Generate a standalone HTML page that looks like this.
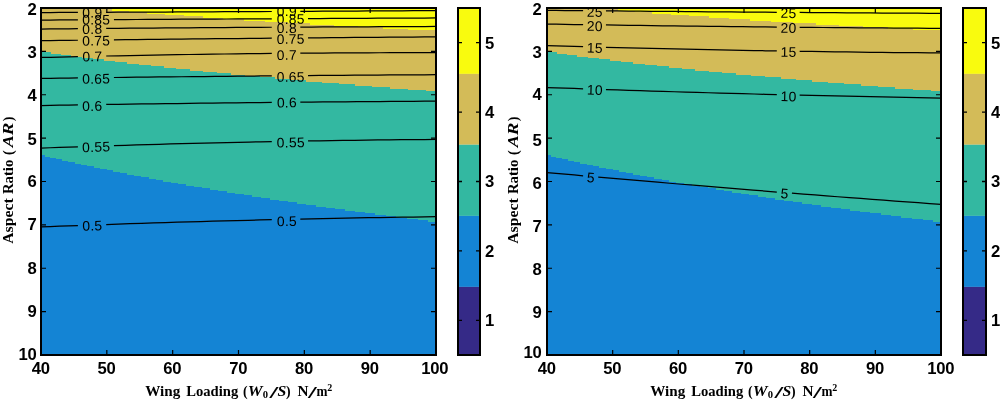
<!DOCTYPE html>
<html><head><meta charset="utf-8"><title>Wing loading vs aspect ratio</title>
<style>
html,body{margin:0;padding:0;background:#fff}
svg{display:block}
text{font-family:"Liberation Sans",sans-serif;fill:#000}
.tk text{font-size:16.67px;font-weight:bold;letter-spacing:-0.27px}
.ct path{fill:none;stroke:#000;stroke-width:1.25}
.ct text{font-size:13.89px;text-anchor:middle;letter-spacing:0.28px}
.ax{font-family:"Liberation Serif",serif;font-size:15px;font-weight:bold}
.it{font-style:italic}
.sub{font-size:10px}
.sl{font-size:17.5px}
</style></head><body>
<svg width="1000" height="401" viewBox="0 0 1000 401">
<rect width="1000" height="401" fill="#fff"/>
<clipPath id="c0"><rect x="41" y="8" width="395" height="347"/></clipPath>
<g shape-rendering="crispEdges"><rect x="41" y="8" width="395" height="347" fill="#1484d4"/>
<path fill="#33b8a1" d="M41 8H436V9.44H41ZM41 9.39H436V10.83H41ZM41 10.78H436V12.21H41ZM41 12.16H436V13.6H41ZM41 13.55H436V14.99H41ZM41 14.94H436V16.38H41ZM41 16.33H436V17.77H41ZM41 17.72H436V19.15H41ZM41 19.1H436V20.54H41ZM41 20.49H436V21.93H41ZM41 21.88H436V23.32H41ZM41 23.27H436V24.71H41ZM41 24.66H436V26.09H41ZM41 26.04H436V27.48H41ZM41 27.43H436V28.87H41ZM41 28.82H436V30.26H41ZM41 30.21H436V31.65H41ZM41 31.6H436V33.03H41ZM41 32.98H436V34.42H41ZM41 34.37H436V35.81H41ZM41 35.76H436V37.2H41ZM41 37.15H436V38.59H41ZM41 38.54H436V39.97H41ZM41 39.92H436V41.36H41ZM41 41.31H436V42.75H41ZM41 42.7H436V44.14H41ZM41 44.09H436V45.53H41ZM41 45.48H436V46.91H41ZM41 46.86H436V48.3H41ZM41 48.25H436V49.69H41ZM41 49.64H436V51.08H41ZM41 51.03H436V52.47H41ZM41 52.42H436V53.85H41ZM41 53.8H436V55.24H41ZM41 55.19H436V56.63H41ZM41 56.58H436V58.02H41ZM41 57.97H436V59.41H41ZM41 59.36H436V60.79H41ZM41 60.74H436V62.18H41ZM41 62.13H436V63.57H41ZM41 63.52H436V64.96H41ZM41 64.91H436V66.35H41ZM41 66.3H436V67.73H41ZM41 67.68H436V69.12H41ZM41 69.07H436V70.51H41ZM41 70.46H436V71.9H41ZM41 71.85H436V73.29H41ZM41 73.24H436V74.67H41ZM41 74.62H436V76.06H41ZM41 76.01H436V77.45H41ZM41 77.4H436V78.84H41ZM41 78.79H436V80.23H41ZM41 80.18H436V81.61H41ZM41 81.56H436V83H41ZM41 82.95H436V84.39H41ZM41 84.34H436V85.78H41ZM41 85.73H436V87.17H41ZM41 87.12H436V88.55H41ZM41 88.5H436V89.94H41ZM41 89.89H436V91.33H41ZM41 91.28H436V92.72H41ZM41 92.67H436V94.11H41ZM41 94.06H436V95.49H41ZM41 95.44H436V96.88H41ZM41 96.83H436V98.27H41ZM41 98.22H436V99.66H41ZM41 99.61H436V101.05H41ZM41 101H436V102.43H41ZM41 102.38H436V103.82H41ZM41 103.77H436V105.21H41ZM41 105.16H436V106.6H41ZM41 106.55H436V107.99H41ZM41 107.94H436V109.37H41ZM41 109.32H436V110.76H41ZM41 110.71H436V112.15H41ZM41 112.1H436V113.54H41ZM41 113.49H436V114.93H41ZM41 114.88H436V116.31H41ZM41 116.26H436V117.7H41ZM41 117.65H436V119.09H41ZM41 119.04H436V120.48H41ZM41 120.43H436V121.87H41ZM41 121.82H436V123.25H41ZM41 123.2H436V124.64H41ZM41 124.59H436V126.03H41ZM41 125.98H436V127.42H41ZM41 127.37H436V128.81H41ZM41 128.76H436V130.19H41ZM41 130.14H436V131.58H41ZM41 131.53H436V132.97H41ZM41 132.92H436V134.36H41ZM41 134.31H436V135.75H41ZM41 135.7H436V137.13H41ZM41 137.08H436V138.52H41ZM41 138.47H436V139.91H41ZM41 139.86H436V141.3H41ZM41 141.25H436V142.69H41ZM41 142.64H436V144.07H41ZM41 144.02H436V145.46H41ZM41 145.41H436V146.85H41ZM41 146.8H436V148.24H41ZM41 148.19H436V149.63H41ZM41 149.58H436V151.01H41ZM41 150.96H436V152.4H41ZM41 152.35H436V153.79H41ZM41 153.74H436V155.18H41ZM45 155.13H436V156.57H45ZM50 156.52H436V157.95H50ZM56 157.9H436V159.34H56ZM62 159.29H436V160.73H62ZM68 160.68H436V162.12H68ZM75 162.07H436V163.51H75ZM81 163.46H436V164.89H81ZM87 164.84H436V166.28H87ZM94 166.23H436V167.67H94ZM100 167.62H436V169.06H100ZM107 169.01H436V170.45H107ZM113 170.4H436V171.83H113ZM120 171.78H436V173.22H120ZM127 173.17H436V174.61H127ZM134 174.56H436V176H134ZM141 175.95H436V177.39H141ZM149 177.34H436V178.77H149ZM156 178.72H436V180.16H156ZM163 180.11H436V181.55H163ZM171 181.5H436V182.94H171ZM178 182.89H436V184.33H178ZM186 184.28H436V185.71H186ZM194 185.66H436V187.1H194ZM202 187.05H436V188.49H202ZM210 188.44H436V189.88H210ZM218 189.83H436V191.27H218ZM227 191.22H436V192.65H227ZM235 192.6H436V194.04H235ZM244 193.99H436V195.43H244ZM252 195.38H436V196.82H252ZM261 196.77H436V198.21H261ZM270 198.16H436V199.59H270ZM279 199.54H436V200.98H279ZM288 200.93H436V202.37H288ZM297 202.32H436V203.76H297ZM306 203.71H436V205.15H306ZM316 205.1H436V206.53H316ZM326 206.48H436V207.92H326ZM335 207.87H436V209.31H335ZM345 209.26H436V210.7H345ZM355 210.65H436V212.09H355ZM365 212.04H436V213.47H365ZM375 213.42H436V214.86H375ZM386 214.81H436V216.25H386ZM396 216.2H436V217.64H396ZM407 217.59H436V219.03H407ZM418 218.98H436V220.41H418ZM428 220.36H436V221.8H428Z"/>
<path fill="#d3bb58" d="M41 8H436V9.44H41ZM41 9.39H436V10.83H41ZM41 10.78H436V12.21H41ZM41 12.16H436V13.6H41ZM41 13.55H436V14.99H41ZM41 14.94H436V16.38H41ZM41 16.33H436V17.77H41ZM41 17.72H436V19.15H41ZM41 19.1H436V20.54H41ZM41 20.49H436V21.93H41ZM41 21.88H436V23.32H41ZM41 23.27H436V24.71H41ZM41 24.66H436V26.09H41ZM41 26.04H436V27.48H41ZM41 27.43H436V28.87H41ZM41 28.82H436V30.26H41ZM41 30.21H436V31.65H41ZM41 31.6H436V33.03H41ZM41 32.98H436V34.42H41ZM41 34.37H436V35.81H41ZM41 35.76H436V37.2H41ZM41 37.15H436V38.59H41ZM41 38.54H436V39.97H41ZM41 39.92H436V41.36H41ZM41 41.31H436V42.75H41ZM41 42.7H436V44.14H41ZM41 44.09H436V45.53H41ZM41 45.48H436V46.91H41ZM41 46.86H436V48.3H41ZM41 48.25H436V49.69H41ZM41 49.64H436V51.08H41ZM41 51.03H436V52.47H41ZM51 52.42H436V53.85H51ZM61 53.8H436V55.24H61ZM71 55.19H436V56.63H71ZM82 56.58H436V58.02H82ZM93 57.97H436V59.41H93ZM104 59.36H436V60.79H104ZM115 60.74H436V62.18H115ZM127 62.13H436V63.57H127ZM139 63.52H436V64.96H139ZM151 64.91H436V66.35H151ZM164 66.3H436V67.73H164ZM176 67.68H436V69.12H176ZM190 69.07H436V70.51H190ZM203 70.46H436V71.9H203ZM217 71.85H436V73.29H217ZM231 73.24H436V74.67H231ZM245 74.62H436V76.06H245ZM260 76.01H436V77.45H260ZM275 77.4H436V78.84H275ZM290 78.79H436V80.23H290ZM306 80.18H436V81.61H306ZM322 81.56H436V83H322ZM339 82.95H436V84.39H339ZM355 84.34H436V85.78H355ZM372 85.73H436V87.17H372ZM390 87.12H436V88.55H390ZM408 88.5H436V89.94H408ZM426 89.89H436V91.33H426Z"/>
<path fill="#f9fb0e" d="M95 8H436V9.44H95ZM112 9.39H436V10.83H112ZM129 10.78H436V12.21H129ZM147 12.16H436V13.6H147ZM165 13.55H436V14.99H165ZM184 14.94H436V16.38H184ZM203 16.33H436V17.77H203ZM223 17.72H436V19.15H223ZM244 19.1H436V20.54H244ZM265 20.49H436V21.93H265ZM288 21.88H436V23.32H288ZM310 23.27H436V24.71H310ZM334 24.66H436V26.09H334ZM358 26.04H436V27.48H358ZM383 27.43H436V28.87H383ZM408 28.82H436V30.26H408ZM435 30.21H436V31.65H435Z"/></g>
<g clip-path="url(#c0)" class="ct"><path d="M41 12.55 L50.23 12.51 L59.45 12.47 L68.68 12.44 L77.9 12.4"/>
<path d="M106.21 12.28 L118.04 12.23 L129.86 12.18 L141.69 12.12 L153.52 12.07 L165.35 12.02 L177.18 11.96 L189 11.91 L200.83 11.85 L212.66 11.79 L224.49 11.74 L236.32 11.68 L248.14 11.62 L259.97 11.56 L271.8 11.5"/>
<path d="M300.31 11.35 L311.61 11.29 L322.92 11.23 L334.23 11.16 L345.54 11.1 L356.85 11.04 L368.15 10.98 L379.46 10.91 L390.77 10.85 L402.08 10.78 L413.38 10.71 L424.69 10.65 L436 10.58"/>
<text x="92.35" y="17.4" transform="rotate(-0.24 92.35 12.45)">0.9</text>
<text x="286.9" y="16.1" transform="rotate(-0.3 286.9 11.15)">0.9</text>
<path d="M41 20.07 L50.23 20.01 L59.45 19.95 L68.68 19.9 L77.9 19.84"/>
<path d="M113.93 19.63 L125.21 19.56 L136.48 19.5 L147.76 19.43 L159.04 19.37 L170.31 19.31 L181.59 19.24 L192.86 19.18 L204.14 19.12 L215.42 19.06 L226.69 19 L237.97 18.93 L249.25 18.87 L260.52 18.82 L271.8 18.76"/>
<path d="M308.03 18.57 L319.66 18.51 L331.3 18.45 L342.93 18.4 L354.56 18.34 L366.2 18.28 L377.83 18.23 L389.47 18.17 L401.1 18.12 L412.73 18.06 L424.37 18.01 L436 17.95"/>
<text x="96.21" y="24.5" transform="rotate(-0.34 96.21 19.55)">0.85</text>
<text x="290.76" y="23.9" transform="rotate(-0.29 290.76 18.95)">0.85</text>
<path d="M41 29.01 L50.23 28.92 L59.45 28.84 L68.68 28.76 L77.9 28.67"/>
<path d="M106.21 28.43 L118.04 28.33 L129.86 28.24 L141.69 28.14 L153.52 28.05 L165.35 27.96 L177.18 27.87 L189 27.79 L200.83 27.71 L212.66 27.62 L224.49 27.54 L236.32 27.47 L248.14 27.39 L259.97 27.32 L271.8 27.25"/>
<path d="M300.31 27.09 L311.61 27.03 L322.92 26.97 L334.23 26.91 L345.54 26.86 L356.85 26.81 L368.15 26.76 L379.46 26.71 L390.77 26.66 L402.08 26.62 L413.38 26.57 L424.69 26.53 L436 26.49"/>
<text x="92.35" y="33.9" transform="rotate(-0.49 92.35 28.95)">0.8</text>
<text x="286.9" y="32.9" transform="rotate(-0.32 286.9 27.95)">0.8</text>
<path d="M41 40.71 L50.23 40.59 L59.45 40.48 L68.68 40.37 L77.9 40.25"/>
<path d="M113.93 39.83 L125.21 39.7 L136.48 39.57 L147.76 39.45 L159.04 39.32 L170.31 39.2 L181.59 39.08 L192.86 38.97 L204.14 38.85 L215.42 38.74 L226.69 38.62 L237.97 38.51 L249.25 38.4 L260.52 38.3 L271.8 38.19"/>
<path d="M308.03 37.87 L319.66 37.77 L331.3 37.67 L342.93 37.58 L354.56 37.48 L366.2 37.39 L377.83 37.3 L389.47 37.21 L401.1 37.13 L412.73 37.04 L424.37 36.96 L436 36.88"/>
<text x="96.21" y="45.5" transform="rotate(-0.68 96.21 40.55)">0.75</text>
<text x="290.76" y="43.8" transform="rotate(-0.51 290.76 38.85)">0.75</text>
<path d="M41 57.48 L50.23 57.26 L59.45 57.04 L68.68 56.82 L77.9 56.61"/>
<path d="M106.21 56 L118.04 55.76 L129.86 55.52 L141.69 55.3 L153.52 55.09 L165.35 54.88 L177.18 54.69 L189 54.5 L200.83 54.33 L212.66 54.16 L224.49 54 L236.32 53.85 L248.14 53.71 L259.97 53.58 L271.8 53.45"/>
<path d="M300.31 53.2 L311.61 53.11 L322.92 53.03 L334.23 52.96 L345.54 52.89 L356.85 52.84 L368.15 52.79 L379.46 52.75 L390.77 52.72 L402.08 52.7 L413.38 52.69 L424.69 52.68 L436 52.69"/>
<text x="92.35" y="61.3" transform="rotate(-1.24 92.35 56.35)">0.7</text>
<text x="286.9" y="59.8" transform="rotate(-0.52 286.9 54.85)">0.7</text>
<path d="M41 78.4 L50.23 78.28 L59.45 78.17 L68.68 78.05 L77.9 77.93"/>
<path d="M113.93 77.5 L125.21 77.37 L136.48 77.24 L147.76 77.11 L159.04 76.99 L170.31 76.86 L181.59 76.75 L192.86 76.63 L204.14 76.51 L215.42 76.4 L226.69 76.29 L237.97 76.19 L249.25 76.08 L260.52 75.98 L271.8 75.88"/>
<path d="M308.03 75.58 L319.66 75.49 L331.3 75.4 L342.93 75.31 L354.56 75.23 L366.2 75.14 L377.83 75.06 L389.47 74.99 L401.1 74.91 L412.73 74.84 L424.37 74.77 L436 74.71"/>
<text x="96.21" y="83.65" transform="rotate(-0.69 96.21 78.7)">0.65</text>
<text x="290.76" y="81.7" transform="rotate(-0.48 290.76 76.75)">0.65</text>
<path d="M41 105.51 L50.23 105.36 L59.45 105.21 L68.68 105.06 L77.9 104.91"/>
<path d="M106.21 104.49 L118.04 104.31 L129.86 104.14 L141.69 103.98 L153.52 103.82 L165.35 103.66 L177.18 103.51 L189 103.36 L200.83 103.22 L212.66 103.07 L224.49 102.94 L236.32 102.8 L248.14 102.68 L259.97 102.55 L271.8 102.43"/>
<path d="M300.31 102.15 L311.61 102.05 L322.92 101.95 L334.23 101.86 L345.54 101.76 L356.85 101.68 L368.15 101.59 L379.46 101.51 L390.77 101.43 L402.08 101.36 L413.38 101.29 L424.69 101.22 L436 101.16"/>
<text x="92.35" y="110.9" transform="rotate(-0.87 92.35 105.95)">0.6</text>
<text x="286.9" y="107.4" transform="rotate(-0.55 286.9 102.45)">0.6</text>
<path d="M41 148.09 L50.23 147.75 L59.45 147.43 L68.68 147.1 L77.9 146.79"/>
<path d="M113.93 145.62 L125.21 145.27 L136.48 144.93 L147.76 144.61 L159.04 144.29 L170.31 143.98 L181.59 143.68 L192.86 143.39 L204.14 143.11 L215.42 142.83 L226.69 142.57 L237.97 142.32 L249.25 142.08 L260.52 141.84 L271.8 141.62"/>
<path d="M308.03 140.96 L319.66 140.77 L331.3 140.59 L342.93 140.42 L354.56 140.26 L366.2 140.11 L377.83 139.97 L389.47 139.84 L401.1 139.72 L412.73 139.61 L424.37 139.51 L436 139.42"/>
<text x="96.21" y="151.8" transform="rotate(-1.86 96.21 146.85)">0.55</text>
<text x="290.76" y="147.3" transform="rotate(-1.04 290.76 142.35)">0.55</text>
<path d="M41 226.91 L50.23 226.55 L59.45 226.2 L68.68 225.86 L77.9 225.52"/>
<path d="M106.21 224.51 L118.04 224.11 L129.86 223.72 L141.69 223.33 L153.52 222.95 L165.35 222.59 L177.18 222.23 L189 221.88 L200.83 221.54 L212.66 221.21 L224.49 220.89 L236.32 220.58 L248.14 220.27 L259.97 219.98 L271.8 219.7"/>
<path d="M300.31 219.05 L311.61 218.81 L322.92 218.57 L334.23 218.35 L345.54 218.13 L356.85 217.92 L368.15 217.73 L379.46 217.53 L390.77 217.35 L402.08 217.18 L413.38 217.01 L424.69 216.85 L436 216.7"/>
<text x="92.35" y="230.5" transform="rotate(-2.03 92.35 225.55)">0.5</text>
<text x="286.9" y="226" transform="rotate(-1.3 286.9 221.05)">0.5</text></g>
<rect x="41" y="8" width="395" height="347" fill="none" stroke="#000" stroke-width="2"/>
<path d="M106.83 355v-5M106.83 8v5M172.67 355v-5M172.67 8v5M238.5 355v-5M238.5 8v5M304.33 355v-5M304.33 8v5M370.17 355v-5M370.17 8v5M41 51.38h5M436 51.38h-5M41 94.75h5M436 94.75h-5M41 138.12h5M436 138.12h-5M41 181.5h5M436 181.5h-5M41 224.88h5M436 224.88h-5M41 268.25h5M436 268.25h-5M41 311.62h5M436 311.62h-5" stroke="#000" stroke-width="1.2" fill="none"/>
<g class="tk"><text x="40.7" y="374.2" text-anchor="middle">40</text><text x="106.53" y="374.2" text-anchor="middle">50</text><text x="172.37" y="374.2" text-anchor="middle">60</text><text x="238.2" y="374.2" text-anchor="middle">70</text><text x="304.03" y="374.2" text-anchor="middle">80</text><text x="369.87" y="374.2" text-anchor="middle">90</text><text x="434.7" y="374.2" text-anchor="middle">100</text><text x="36.4" y="15.1" text-anchor="end">2</text><text x="36.4" y="58.38" text-anchor="end">3</text><text x="36.4" y="100.85" text-anchor="end">4</text><text x="36.4" y="144.62" text-anchor="end">5</text><text x="36.4" y="187.4" text-anchor="end">6</text><text x="36.4" y="229.68" text-anchor="end">7</text><text x="36.4" y="273.65" text-anchor="end">8</text><text x="36.4" y="316.92" text-anchor="end">9</text><text x="36.4" y="360" text-anchor="end">10</text></g>
<rect x="458" y="8" width="22" height="65.9" fill="#f9fb0e"/>
<rect x="458" y="73.9" width="22" height="70.85" fill="#d3bb58"/>
<rect x="458" y="144.75" width="22" height="71.15" fill="#33b8a1"/>
<rect x="458" y="215.9" width="22" height="71" fill="#1484d4"/>
<rect x="458" y="286.9" width="22" height="68.1" fill="#352a87"/>
<rect x="458" y="8" width="22" height="347" fill="none" stroke="#000" stroke-width="2"/>
<path d="M458 320.3h4M480 320.3h-4M458 250.9h4M480 250.9h-4M458 181.5h4M480 181.5h-4M458 112.1h4M480 112.1h-4M458 42.7h4M480 42.7h-4" stroke="#000" stroke-width="1.3" fill="none"/>
<g class="tk"><text x="485" y="326.2">1</text><text x="485" y="256.8">2</text><text x="485" y="187.4">3</text><text x="485" y="118">4</text><text x="485" y="48.6">5</text></g>
<g transform="translate(0 395.8)"><text class="ax" x="145.2" y="0" textLength="35.1" lengthAdjust="spacingAndGlyphs">Wing</text><text class="ax" x="186.2" y="0" textLength="52" lengthAdjust="spacingAndGlyphs">Loading</text><text class="ax" x="243" y="0" textLength="4.6" lengthAdjust="spacingAndGlyphs">(</text><text class="ax it" x="247.8" y="0" textLength="14.8" lengthAdjust="spacingAndGlyphs">W</text><text class="ax sub" x="262.7" y="2.6" textLength="5.3" lengthAdjust="spacingAndGlyphs">0</text><text class="ax sl" x="269.4" y="2.4" textLength="8.8" lengthAdjust="spacingAndGlyphs">/</text><text class="ax it" x="277.4" y="0" textLength="8.8" lengthAdjust="spacingAndGlyphs">S</text><text class="ax" x="286" y="0" textLength="4.6" lengthAdjust="spacingAndGlyphs">)</text><text class="ax" x="297.4" y="0" textLength="11" lengthAdjust="spacingAndGlyphs">N</text><text class="ax sl" x="308" y="2.4" textLength="8.8" lengthAdjust="spacingAndGlyphs">/</text><text class="ax" x="316.6" y="0" textLength="11" lengthAdjust="spacingAndGlyphs">m</text><text class="ax sub" x="327.3" y="-5.2" textLength="5" lengthAdjust="spacingAndGlyphs">2</text></g>
<g transform="translate(12.8 242.8) rotate(-90)"><text class="ax" x="-1" y="0" textLength="45.5" lengthAdjust="spacingAndGlyphs">Aspect</text><text class="ax" x="48.8" y="0" textLength="34.3" lengthAdjust="spacingAndGlyphs">Ratio</text><text class="ax" x="87.8" y="0" textLength="4.6" lengthAdjust="spacingAndGlyphs">(</text><text class="ax it" x="95.5" y="0" textLength="12" lengthAdjust="spacingAndGlyphs">A</text><text class="ax it" x="107.5" y="0" textLength="12.6" lengthAdjust="spacingAndGlyphs">R</text><text class="ax" x="121.5" y="0" textLength="4.6" lengthAdjust="spacingAndGlyphs">)</text></g>
<clipPath id="c1"><rect x="547" y="8" width="394" height="347"/></clipPath>
<g shape-rendering="crispEdges"><rect x="547" y="8" width="394" height="347" fill="#1484d4"/>
<path fill="#33b8a1" d="M547 8H941V9.44H547ZM547 9.39H941V10.83H547ZM547 10.78H941V12.21H547ZM547 12.16H941V13.6H547ZM547 13.55H941V14.99H547ZM547 14.94H941V16.38H547ZM547 16.33H941V17.77H547ZM547 17.72H941V19.15H547ZM547 19.1H941V20.54H547ZM547 20.49H941V21.93H547ZM547 21.88H941V23.32H547ZM547 23.27H941V24.71H547ZM547 24.66H941V26.09H547ZM547 26.04H941V27.48H547ZM547 27.43H941V28.87H547ZM547 28.82H941V30.26H547ZM547 30.21H941V31.65H547ZM547 31.6H941V33.03H547ZM547 32.98H941V34.42H547ZM547 34.37H941V35.81H547ZM547 35.76H941V37.2H547ZM547 37.15H941V38.59H547ZM547 38.54H941V39.97H547ZM547 39.92H941V41.36H547ZM547 41.31H941V42.75H547ZM547 42.7H941V44.14H547ZM547 44.09H941V45.53H547ZM547 45.48H941V46.91H547ZM547 46.86H941V48.3H547ZM547 48.25H941V49.69H547ZM547 49.64H941V51.08H547ZM547 51.03H941V52.47H547ZM547 52.42H941V53.85H547ZM547 53.8H941V55.24H547ZM547 55.19H941V56.63H547ZM547 56.58H941V58.02H547ZM547 57.97H941V59.41H547ZM547 59.36H941V60.79H547ZM547 60.74H941V62.18H547ZM547 62.13H941V63.57H547ZM547 63.52H941V64.96H547ZM547 64.91H941V66.35H547ZM547 66.3H941V67.73H547ZM547 67.68H941V69.12H547ZM547 69.07H941V70.51H547ZM547 70.46H941V71.9H547ZM547 71.85H941V73.29H547ZM547 73.24H941V74.67H547ZM547 74.62H941V76.06H547ZM547 76.01H941V77.45H547ZM547 77.4H941V78.84H547ZM547 78.79H941V80.23H547ZM547 80.18H941V81.61H547ZM547 81.56H941V83H547ZM547 82.95H941V84.39H547ZM547 84.34H941V85.78H547ZM547 85.73H941V87.17H547ZM547 87.12H941V88.55H547ZM547 88.5H941V89.94H547ZM547 89.89H941V91.33H547ZM547 91.28H941V92.72H547ZM547 92.67H941V94.11H547ZM547 94.06H941V95.49H547ZM547 95.44H941V96.88H547ZM547 96.83H941V98.27H547ZM547 98.22H941V99.66H547ZM547 99.61H941V101.05H547ZM547 101H941V102.43H547ZM547 102.38H941V103.82H547ZM547 103.77H941V105.21H547ZM547 105.16H941V106.6H547ZM547 106.55H941V107.99H547ZM547 107.94H941V109.37H547ZM547 109.32H941V110.76H547ZM547 110.71H941V112.15H547ZM547 112.1H941V113.54H547ZM547 113.49H941V114.93H547ZM547 114.88H941V116.31H547ZM547 116.26H941V117.7H547ZM547 117.65H941V119.09H547ZM547 119.04H941V120.48H547ZM547 120.43H941V121.87H547ZM547 121.82H941V123.25H547ZM547 123.2H941V124.64H547ZM547 124.59H941V126.03H547ZM547 125.98H941V127.42H547ZM547 127.37H941V128.81H547ZM547 128.76H941V130.19H547ZM547 130.14H941V131.58H547ZM547 131.53H941V132.97H547ZM547 132.92H941V134.36H547ZM547 134.31H941V135.75H547ZM547 135.7H941V137.13H547ZM547 137.08H941V138.52H547ZM547 138.47H941V139.91H547ZM547 139.86H941V141.3H547ZM547 141.25H941V142.69H547ZM547 142.64H941V144.07H547ZM547 144.02H941V145.46H547ZM547 145.41H941V146.85H547ZM547 146.8H941V148.24H547ZM547 148.19H941V149.63H547ZM547 149.58H941V151.01H547ZM547 150.96H941V152.4H547ZM547 152.35H941V153.79H547ZM547 153.74H941V155.18H547ZM551 155.13H941V156.57H551ZM556 156.52H941V157.95H556ZM562 157.9H941V159.34H562ZM568 159.29H941V160.73H568ZM574 160.68H941V162.12H574ZM580 162.07H941V163.51H580ZM587 163.46H941V164.89H587ZM593 164.84H941V166.28H593ZM599 166.23H941V167.67H599ZM606 167.62H941V169.06H606ZM613 169.01H941V170.45H613ZM619 170.4H941V171.83H619ZM626 171.78H941V173.22H626ZM633 173.17H941V174.61H633ZM640 174.56H941V176H640ZM647 175.95H941V177.39H647ZM654 177.34H941V178.77H654ZM662 178.72H941V180.16H662ZM669 180.11H941V181.55H669ZM676 181.5H941V182.94H676ZM684 182.89H941V184.33H684ZM692 184.28H941V185.71H692ZM700 185.66H941V187.1H700ZM708 187.05H941V188.49H708ZM716 188.44H941V189.88H716ZM724 189.83H941V191.27H724ZM732 191.22H941V192.65H732ZM741 192.6H941V194.04H741ZM749 193.99H941V195.43H749ZM758 195.38H941V196.82H758ZM766 196.77H941V198.21H766ZM775 198.16H941V199.59H775ZM784 199.54H941V200.98H784ZM793 200.93H941V202.37H793ZM802 202.32H941V203.76H802ZM812 203.71H941V205.15H812ZM821 205.1H941V206.53H821ZM831 206.48H941V207.92H831ZM841 207.87H941V209.31H841ZM850 209.26H941V210.7H850ZM860 210.65H941V212.09H860ZM870 212.04H941V213.47H870ZM881 213.42H941V214.86H881ZM891 214.81H941V216.25H891ZM901 216.2H941V217.64H901ZM912 217.59H941V219.03H912ZM923 218.98H941V220.41H923ZM933 220.36H941V221.8H933Z"/>
<path fill="#d3bb58" d="M547 8H941V9.44H547ZM547 9.39H941V10.83H547ZM547 10.78H941V12.21H547ZM547 12.16H941V13.6H547ZM547 13.55H941V14.99H547ZM547 14.94H941V16.38H547ZM547 16.33H941V17.77H547ZM547 17.72H941V19.15H547ZM547 19.1H941V20.54H547ZM547 20.49H941V21.93H547ZM547 21.88H941V23.32H547ZM547 23.27H941V24.71H547ZM547 24.66H941V26.09H547ZM547 26.04H941V27.48H547ZM547 27.43H941V28.87H547ZM547 28.82H941V30.26H547ZM547 30.21H941V31.65H547ZM547 31.6H941V33.03H547ZM547 32.98H941V34.42H547ZM547 34.37H941V35.81H547ZM547 35.76H941V37.2H547ZM547 37.15H941V38.59H547ZM547 38.54H941V39.97H547ZM547 39.92H941V41.36H547ZM547 41.31H941V42.75H547ZM547 42.7H941V44.14H547ZM547 44.09H941V45.53H547ZM547 45.48H941V46.91H547ZM547 46.86H941V48.3H547ZM547 48.25H941V49.69H547ZM547 49.64H941V51.08H547ZM547 51.03H941V52.47H547ZM557 52.42H941V53.85H557ZM567 53.8H941V55.24H567ZM577 55.19H941V56.63H577ZM588 56.58H941V58.02H588ZM599 57.97H941V59.41H599ZM610 59.36H941V60.79H610ZM621 60.74H941V62.18H621ZM633 62.13H941V63.57H633ZM645 63.52H941V64.96H645ZM657 64.91H941V66.35H657ZM669 66.3H941V67.73H669ZM682 67.68H941V69.12H682ZM695 69.07H941V70.51H695ZM709 70.46H941V71.9H709ZM722 71.85H941V73.29H722ZM736 73.24H941V74.67H736ZM751 74.62H941V76.06H751ZM765 76.01H941V77.45H765ZM781 77.4H941V78.84H781ZM796 78.79H941V80.23H796ZM812 80.18H941V81.61H812ZM828 81.56H941V83H828ZM844 82.95H941V84.39H844ZM861 84.34H941V85.78H861ZM878 85.73H941V87.17H878ZM895 87.12H941V88.55H895ZM913 88.5H941V89.94H913ZM931 89.89H941V91.33H931Z"/>
<path fill="#f9fb0e" d="M601 8H941V9.44H601ZM618 9.39H941V10.83H618ZM635 10.78H941V12.21H635ZM652 12.16H941V13.6H652ZM671 13.55H941V14.99H671ZM689 14.94H941V16.38H689ZM709 16.33H941V17.77H709ZM729 17.72H941V19.15H729ZM750 19.1H941V20.54H750ZM771 20.49H941V21.93H771ZM793 21.88H941V23.32H793ZM816 23.27H941V24.71H816ZM839 24.66H941V26.09H839ZM863 26.04H941V27.48H863ZM888 27.43H941V28.87H888ZM913 28.82H941V30.26H913ZM940 30.21H941V31.65H940Z"/></g>
<g clip-path="url(#c1)" class="ct"><path d="M547 10.36 L556.02 10.44 L565.05 10.52 L574.08 10.61 L583.1 10.69"/>
<path d="M605.95 10.89 L617.34 10.99 L628.73 11.09 L640.12 11.19 L651.51 11.29 L662.9 11.38 L674.29 11.48 L685.68 11.57 L697.07 11.66 L708.46 11.76 L719.85 11.85 L731.24 11.94 L742.63 12.02 L754.02 12.11 L765.41 12.2 L776.8 12.28"/>
<path d="M799.65 12.45 L811.43 12.53 L823.2 12.62 L834.98 12.7 L846.76 12.78 L858.54 12.86 L870.32 12.94 L882.1 13.01 L893.88 13.09 L905.66 13.17 L917.44 13.24 L929.22 13.31 L941 13.38"/>
<text x="594.82" y="16.8" transform="rotate(0.51 594.82 11.85)">25</text>
<text x="788.52" y="17.9" transform="rotate(0.42 788.52 12.95)">25</text>
<path d="M547 24.1 L556.02 24.24 L565.05 24.38 L574.08 24.52 L583.1 24.65"/>
<path d="M605.95 24.98 L617.34 25.14 L628.73 25.3 L640.12 25.46 L651.51 25.61 L662.9 25.76 L674.29 25.9 L685.68 26.04 L697.07 26.18 L708.46 26.32 L719.85 26.45 L731.24 26.58 L742.63 26.7 L754.02 26.83 L765.41 26.95 L776.8 27.06"/>
<path d="M799.65 27.29 L811.43 27.4 L823.2 27.5 L834.98 27.61 L846.76 27.71 L858.54 27.8 L870.32 27.9 L882.1 27.99 L893.88 28.07 L905.66 28.16 L917.44 28.24 L929.22 28.31 L941 28.39"/>
<text x="594.82" y="30.9" transform="rotate(0.83 594.82 25.95)">20</text>
<text x="788.52" y="32.8" transform="rotate(0.56 788.52 27.85)">20</text>
<path d="M547 45.7 L556.02 45.96 L565.05 46.22 L574.08 46.47 L583.1 46.72"/>
<path d="M605.95 47.32 L617.34 47.62 L628.73 47.9 L640.12 48.18 L651.51 48.45 L662.9 48.71 L674.29 48.97 L685.68 49.22 L697.07 49.46 L708.46 49.7 L719.85 49.92 L731.24 50.14 L742.63 50.36 L754.02 50.56 L765.41 50.76 L776.8 50.96"/>
<path d="M799.65 51.32 L811.43 51.49 L823.2 51.66 L834.98 51.82 L846.76 51.98 L858.54 52.12 L870.32 52.26 L882.1 52.39 L893.88 52.51 L905.66 52.63 L917.44 52.73 L929.22 52.83 L941 52.92"/>
<text x="594.82" y="52.8" transform="rotate(1.52 594.82 47.85)">15</text>
<text x="788.52" y="56.8" transform="rotate(0.91 788.52 51.85)">15</text>
<path d="M547 87.51 L556.02 87.83 L565.05 88.16 L574.08 88.48 L583.1 88.79"/>
<path d="M605.95 89.57 L617.34 89.95 L628.73 90.32 L640.12 90.69 L651.51 91.05 L662.9 91.4 L674.29 91.75 L685.68 92.09 L697.07 92.42 L708.46 92.75 L719.85 93.07 L731.24 93.39 L742.63 93.69 L754.02 94 L765.41 94.29 L776.8 94.58"/>
<path d="M799.65 95.14 L811.43 95.42 L823.2 95.69 L834.98 95.95 L846.76 96.21 L858.54 96.46 L870.32 96.7 L882.1 96.94 L893.88 97.17 L905.66 97.39 L917.44 97.61 L929.22 97.82 L941 98.02"/>
<text x="594.82" y="94.8" transform="rotate(1.95 594.82 89.85)">10</text>
<text x="788.52" y="101.15" transform="rotate(1.4 788.52 96.2)">10</text>
<path d="M547 172.55 L556.02 173.36 L565.05 174.17 L574.08 174.97 L583.1 175.77"/>
<path d="M598.22 177.1 L610.13 178.15 L622.03 179.18 L633.94 180.21 L645.84 181.23 L657.75 182.24 L669.65 183.25 L681.56 184.25 L693.46 185.24 L705.37 186.23 L717.27 187.21 L729.18 188.18 L741.08 189.15 L752.99 190.11 L764.89 191.06 L776.8 192.01"/>
<path d="M791.92 193.2 L803.39 194.1 L814.86 194.99 L826.33 195.87 L837.79 196.75 L849.26 197.62 L860.73 198.49 L872.2 199.35 L883.66 200.2 L895.13 201.05 L906.6 201.89 L918.07 202.72 L929.53 203.55 L941 204.37"/>
<text x="590.96" y="182.4" transform="rotate(5.03 590.96 177.45)">5</text>
<text x="784.66" y="198.4" transform="rotate(4.51 784.66 193.45)">5</text></g>
<rect x="547" y="8" width="394" height="347" fill="none" stroke="#000" stroke-width="2"/>
<path d="M612.67 355v-5M612.67 8v5M678.33 355v-5M678.33 8v5M744 355v-5M744 8v5M809.67 355v-5M809.67 8v5M875.33 355v-5M875.33 8v5M547 51.38h5M941 51.38h-5M547 94.75h5M941 94.75h-5M547 138.12h5M941 138.12h-5M547 181.5h5M941 181.5h-5M547 224.88h5M941 224.88h-5M547 268.25h5M941 268.25h-5M547 311.62h5M941 311.62h-5" stroke="#000" stroke-width="1.2" fill="none"/>
<g class="tk"><text x="546.7" y="374.2" text-anchor="middle">40</text><text x="612.37" y="374.2" text-anchor="middle">50</text><text x="678.03" y="374.2" text-anchor="middle">60</text><text x="743.7" y="374.2" text-anchor="middle">70</text><text x="809.37" y="374.2" text-anchor="middle">80</text><text x="875.03" y="374.2" text-anchor="middle">90</text><text x="940.7" y="374.2" text-anchor="middle">100</text><text x="541.4" y="15.3" text-anchor="end">2</text><text x="541.4" y="57.57" text-anchor="end">3</text><text x="541.4" y="99.75" text-anchor="end">4</text><text x="541.4" y="145.68" text-anchor="end">5</text><text x="541.4" y="189" text-anchor="end">6</text><text x="541.4" y="231.78" text-anchor="end">7</text><text x="541.4" y="275.25" text-anchor="end">8</text><text x="541.4" y="317.67" text-anchor="end">9</text><text x="541.4" y="358.4" text-anchor="end">10</text></g>
<rect x="963" y="8" width="23" height="65.9" fill="#f9fb0e"/>
<rect x="963" y="73.9" width="23" height="70.85" fill="#d3bb58"/>
<rect x="963" y="144.75" width="23" height="71.15" fill="#33b8a1"/>
<rect x="963" y="215.9" width="23" height="71" fill="#1484d4"/>
<rect x="963" y="286.9" width="23" height="68.1" fill="#352a87"/>
<rect x="963" y="8" width="23" height="347" fill="none" stroke="#000" stroke-width="2"/>
<path d="M963 320.3h4M986 320.3h-4M963 250.9h4M986 250.9h-4M963 181.5h4M986 181.5h-4M963 112.1h4M986 112.1h-4M963 42.7h4M986 42.7h-4" stroke="#000" stroke-width="1.3" fill="none"/>
<g class="tk"><text x="991" y="326.2">1</text><text x="991" y="256.8">2</text><text x="991" y="187.4">3</text><text x="991" y="118">4</text><text x="991" y="48.6">5</text></g>
<g transform="translate(505 395.8)"><text class="ax" x="145.2" y="0" textLength="35.1" lengthAdjust="spacingAndGlyphs">Wing</text><text class="ax" x="186.2" y="0" textLength="52" lengthAdjust="spacingAndGlyphs">Loading</text><text class="ax" x="243" y="0" textLength="4.6" lengthAdjust="spacingAndGlyphs">(</text><text class="ax it" x="247.8" y="0" textLength="14.8" lengthAdjust="spacingAndGlyphs">W</text><text class="ax sub" x="262.7" y="2.6" textLength="5.3" lengthAdjust="spacingAndGlyphs">0</text><text class="ax sl" x="269.4" y="2.4" textLength="8.8" lengthAdjust="spacingAndGlyphs">/</text><text class="ax it" x="277.4" y="0" textLength="8.8" lengthAdjust="spacingAndGlyphs">S</text><text class="ax" x="286" y="0" textLength="4.6" lengthAdjust="spacingAndGlyphs">)</text><text class="ax" x="297.4" y="0" textLength="11" lengthAdjust="spacingAndGlyphs">N</text><text class="ax sl" x="308" y="2.4" textLength="8.8" lengthAdjust="spacingAndGlyphs">/</text><text class="ax" x="316.6" y="0" textLength="11" lengthAdjust="spacingAndGlyphs">m</text><text class="ax sub" x="327.3" y="-5.2" textLength="5" lengthAdjust="spacingAndGlyphs">2</text></g>
<g transform="translate(518.3 242.8) rotate(-90)"><text class="ax" x="-1" y="0" textLength="45.5" lengthAdjust="spacingAndGlyphs">Aspect</text><text class="ax" x="48.8" y="0" textLength="34.3" lengthAdjust="spacingAndGlyphs">Ratio</text><text class="ax" x="87.8" y="0" textLength="4.6" lengthAdjust="spacingAndGlyphs">(</text><text class="ax it" x="95.5" y="0" textLength="12" lengthAdjust="spacingAndGlyphs">A</text><text class="ax it" x="107.5" y="0" textLength="12.6" lengthAdjust="spacingAndGlyphs">R</text><text class="ax" x="121.5" y="0" textLength="4.6" lengthAdjust="spacingAndGlyphs">)</text></g>
</svg>
</body></html>
